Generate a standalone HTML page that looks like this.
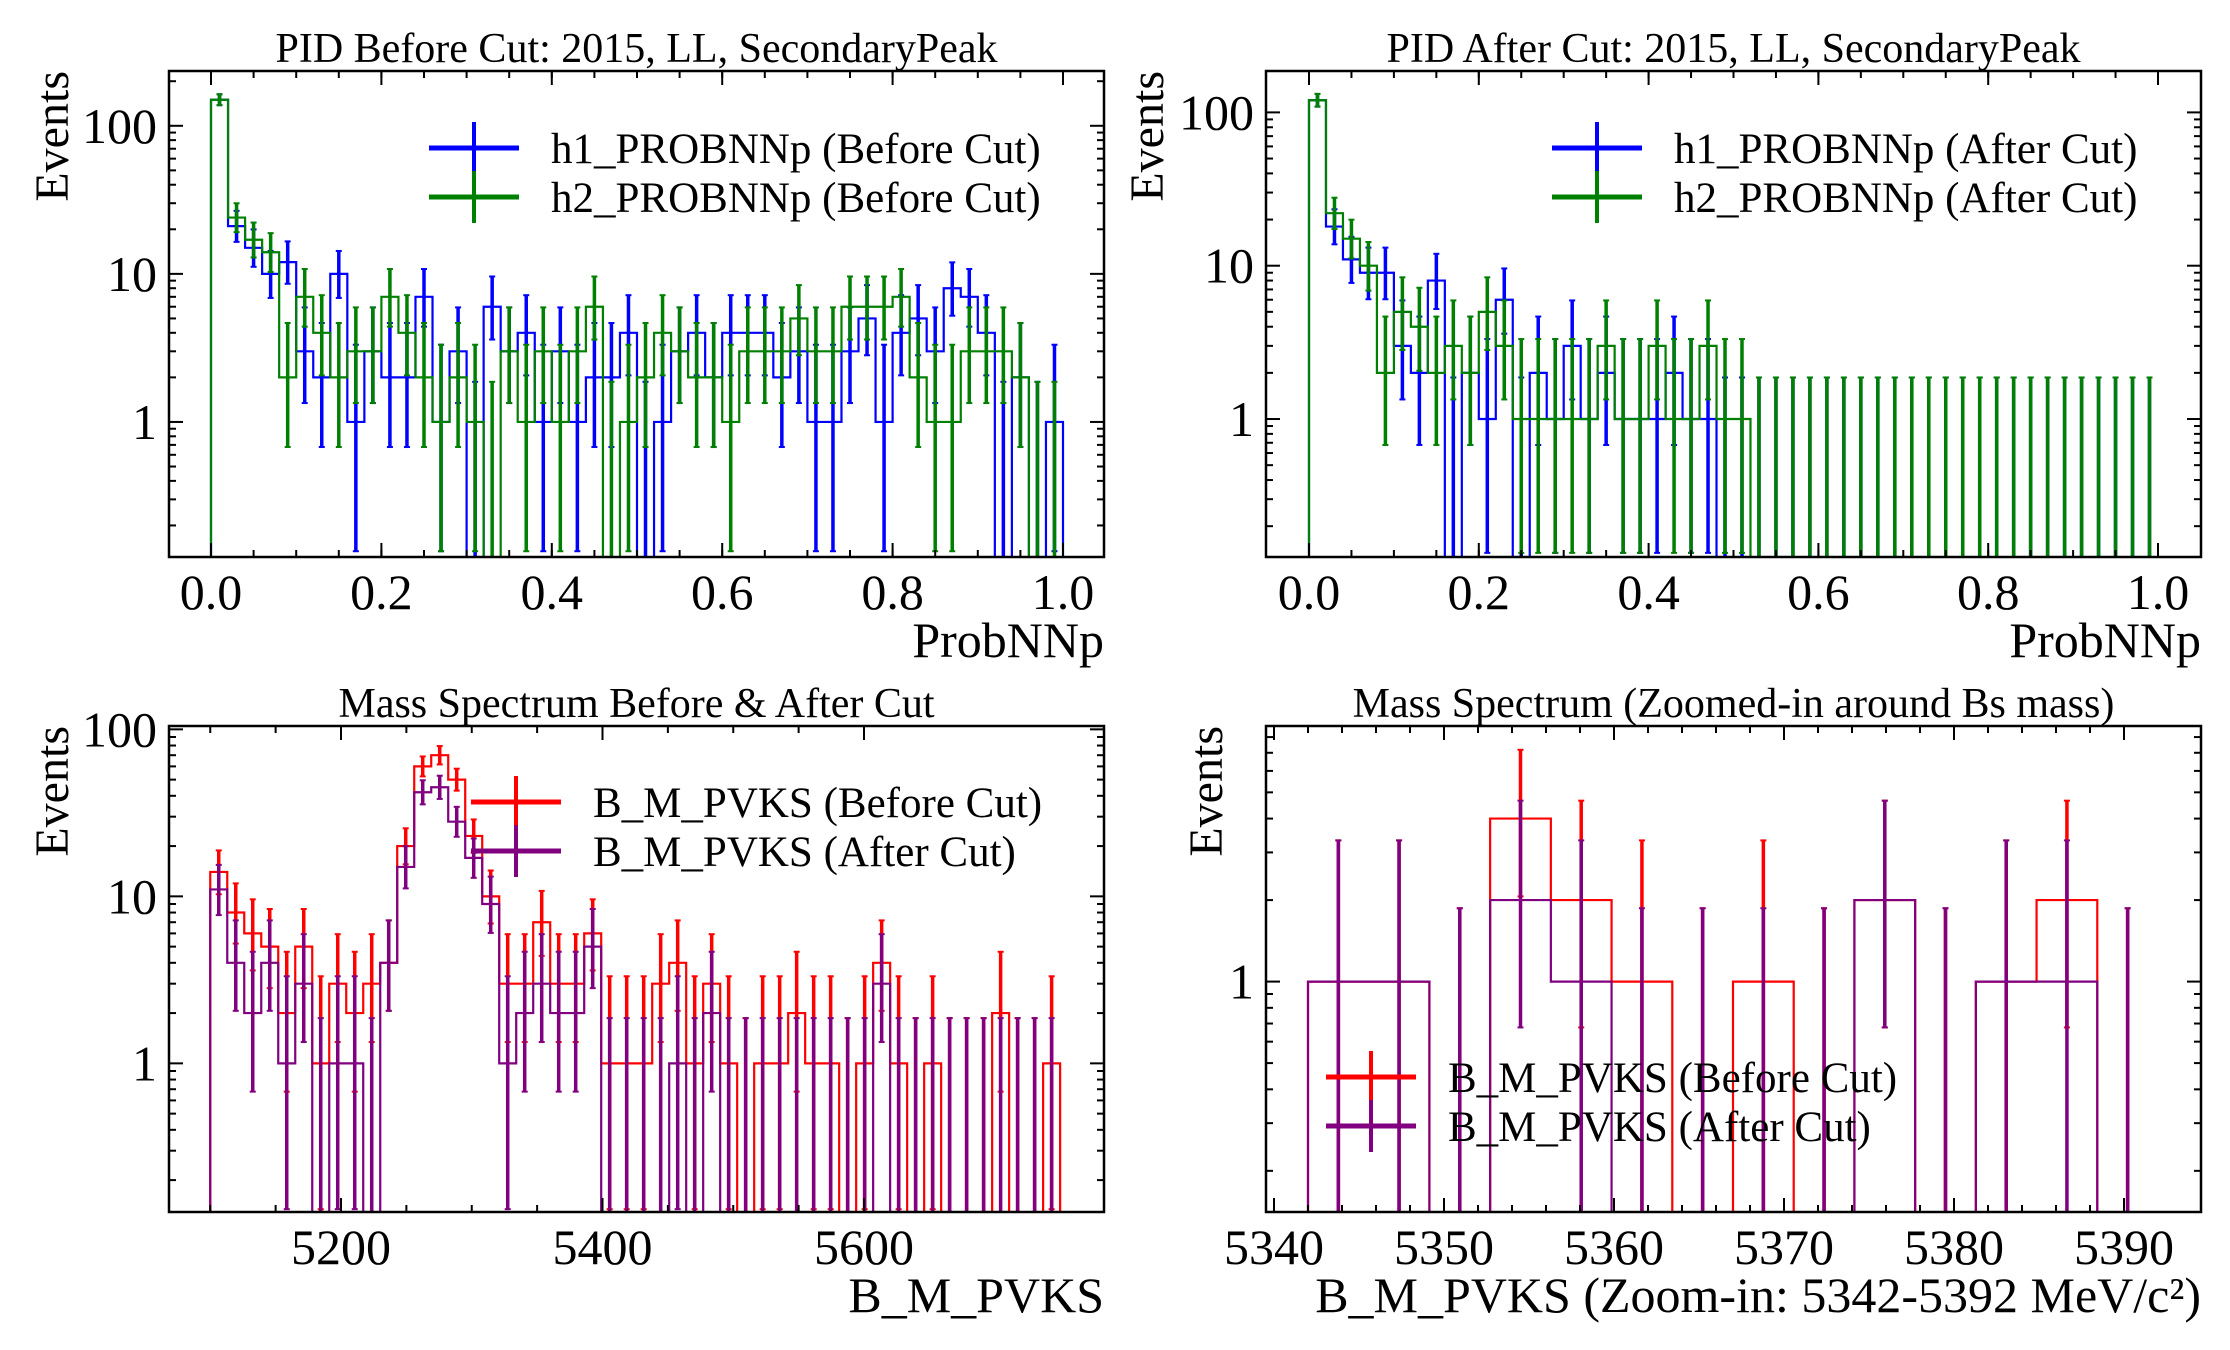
<!DOCTYPE html>
<html><head><meta charset="utf-8"><style>
html,body{margin:0;padding:0;background:#fff}
svg{display:block;font-family:"Liberation Serif","DejaVu Serif",serif}
</style></head><body>
<svg id="fig" width="2230" height="1350" viewBox="0 0 2230 1350" xmlns="http://www.w3.org/2000/svg">
<rect width="2230" height="1350" fill="#fff"/>
</svg>
<script>
// ---- data ----
const pidEdgesStart = 0, pidBinWidth = 0.02, pidBins = 50;
const h1Before = [150,21,15,10,12,3,2,10,1,3, 2,2,7,1,3,0,6,3,4,1, 3,1,2,2,4,0,1,3,4,2, 4,4,4,2,3,1,1,3,5,1, 4,5,3,8,7,4,0,2,0,1];
const h2Before = [150,24,17,14,2,7,4,2,3,3, 7,4,2,1,2,1,0,3,1,3, 1,3,6,0,1,2,4,3,2,2, 1,3,3,3,5,3,3,6,6,6, 7,2,1,1,3,3,3,2,0,0];
const h1After = [120,18,11,9,9,3,2,8,0,2, 1,6,0,2,1,3,1,2,1,1, 1,2,1,1,0,0,0,0,0,0, 0,0,0,0,0,0,0,0,0,0, 0,0,0,0,0,0,0,0,0,0];
const h2After = [120,22,15,10,2,5,4,2,3,2, 5,3,1,1,1,1,1,3,1,1, 3,1,1,3,1,1,0,0,0,0, 0,0,0,0,0,0,0,0,0,0, 0,0,0,0,0,0,0,0,0,0];
const massStart = 5100, massBinWidth = 13;
const massBefore = [14,8,6,5,2,5,1,3,2,3, 4,20,60,70,50,23,10,3,3,7, 3,3,6,1,1,1,3,4,1,3, 1,0,1,1,2,1,1,0,1,4, 1,0,1,0,0,0,2,0,0,1];
const massAfter = [11,4,2,4,1,3,0,1,1,0, 4,15,42,45,28,17,9,1,2,3, 2,2,5,0,0,0,0,1,0,2, 0,0,0,0,0,0,0,0,0,3, 0,0,0,0,0,0,0,0,0,0];
const zoomStart = 5342, zoomBinWidth = 50/14;
const zoomBefore = [1,1,0,4,2,1,0,1,0,2,0,1,2,0];
const zoomAfter = [1,1,0,2,1,0,0,0,0,2,0,1,1,0];
const pidTicks = [0,0.2,0.4,0.6,0.8,1.0];
const pidTickLabels = ["0.0","0.2","0.4","0.6","0.8","1.0"];
const massTicks = [5200,5400,5600];
const zoomTicks = [5340,5350,5360,5370,5380,5390];

const NS="http://www.w3.org/2000/svg";
const fig=document.getElementById('fig');
function mk(tag,attrs,parent){const e=document.createElementNS(NS,tag);for(const k in attrs)e.setAttribute(k,attrs[k]);(parent||fig).appendChild(e);return e;}
function up(n){return n+Math.sqrt(n+0.75)+1;}
function lo(n){return n>0?n-Math.sqrt(n-0.25):1e-6;}

function panel(c){
  const g=mk('g',{});
  
  
  const X=v=>c.px0+(v-c.x0)/(c.x1-c.x0)*(c.px1-c.px0);
  const Y=v=>{const l=Math.log10(Math.max(v,1e-6));return c.B-(l-c.lmin)/(c.lmax-c.lmin)*(c.B-c.T);};
  const cid='clip-'+c.name;
  const cp=mk('clipPath',{id:cid},g);mk('rect',{x:c.L,y:c.T,width:c.R-c.L,height:c.B-c.T},cp);
  const plot=mk('g',{'clip-path':'url(#'+cid+')'},g);
  c.series.forEach(s=>{
    const sg=mk('g',{},plot);
    
    
    let d='';const n=s.vals.length;
    for(let i=0;i<n;i++){
      const xa=X(c.start+i*c.bw),xb=X(c.start+(i+1)*c.bw);
      const yv=s.vals[i]>0?Y(s.vals[i]):c.B+60;
      d+=(i===0?'M'+xa+','+(c.B+60)+' L'+xa+','+yv:' L'+xa+','+yv)+' L'+xb+','+yv;
    }
    d+=' L'+X(c.start+n*c.bw)+','+(c.B+60);
    const p=mk('path',{d:d,fill:'none',stroke:s.color,'stroke-width':2.2},sg);
    
    
    for(let i=0;i<n;i++){
      const v=s.vals[i];const xc=X(c.start+(i+0.5)*c.bw);
      const yt=Y(up(v)),yb=v>0?Y(lo(v)):c.B+60;
      const eb=mk('g',{stroke:s.color},sg);
      
      
      mk('line',{x1:xc,x2:xc,y1:yt,y2:yb,'stroke-width':3.5},eb);
      mk('line',{x1:xc-3,x2:xc+3,y1:yt,y2:yt,'stroke-width':2},eb);
      mk('line',{x1:xc-3,x2:xc+3,y1:yb,y2:yb,'stroke-width':2},eb);
    }
  });
  const fr=mk('rect',{x:c.L,y:c.T,width:c.R-c.L,height:c.B-c.T,fill:'none',stroke:'#000','stroke-width':2.5},g);
  
  
  const tg=mk('g',{stroke:'#000','stroke-width':2},g);
  for(let v=c.xminStart;v<=c.x1+1e-9;v+=c.xminor){const x=X(v);if(x<c.L||x>c.R)continue;
    mk('line',{x1:x,x2:x,y1:c.B,y2:c.B-7},tg);mk('line',{x1:x,x2:x,y1:c.T,y2:c.T+7},tg);}
  c.xt.forEach((v,i)=>{const x=X(v);
    mk('line',{x1:x,x2:x,y1:c.B,y2:c.B-14},tg);mk('line',{x1:x,x2:x,y1:c.T,y2:c.T+14},tg);
    const t=mk('text',{x:x,y:c.B+52,'text-anchor':'middle','font-size':50},g);t.textContent=c.xl[i];
    
    });
  for(let d=-2;d<=3;d++){for(let k=1;k<=9;k++){const v=k*Math.pow(10,d);const y=Y(v);if(y<c.T||y>c.B)continue;
    const len=k===1?14:7;
    mk('line',{x1:c.L,x2:c.L+len,y1:y,y2:y},tg);mk('line',{x1:c.R,x2:c.R-len,y1:y,y2:y},tg);
    if(k===1){const t=mk('text',{x:c.L-12,y:y+17,'text-anchor':'end','font-size':50},g);t.textContent=String(v);
      
      }}}
  const ti=mk('text',{x:(c.L+c.R)/2,y:c.T-9,'text-anchor':'middle','font-size':42},g);ti.textContent=c.title;
  
  
  const xl=mk('text',{x:c.R,y:c.B+100,'text-anchor':'end','font-size':50},g);xl.textContent=c.xlabel;
  
  
  const yl=mk('text',{x:0,y:0,'text-anchor':'end','font-size':48,transform:'translate('+c.ylx+','+c.T+') rotate(-90)'},g);yl.textContent='Events';
  
  
  c.series.forEach((s,i)=>{const y=c.legY+i*49;
    const lg=mk('g',{},g);
    
    
    mk('line',{x1:c.legX,x2:c.legX+90,y1:y,y2:y,stroke:s.color,'stroke-width':5},lg);
    mk('line',{x1:c.legX+45,x2:c.legX+45,y1:y-26,y2:y+26,stroke:s.color,'stroke-width':4},lg);
    const t=mk('text',{x:c.legX+122,y:y+15,'font-size':43},lg);t.textContent=s.label;});
}

panel({name:'pid-before-panel',L:169,R:1104,T:71,B:557,px0:211,px1:1063,x0:0,x1:1,lmin:-0.912,lmax:2.37,
  start:pidEdgesStart,bw:pidBinWidth,xt:pidTicks,xl:pidTickLabels,xminStart:0,xminor:0.05,
  title:'PID Before Cut: 2015, LL, SecondaryPeak',xlabel:'ProbNNp',ylx:68,legX:429,legY:148,
  series:[{id:'h1-before',vals:h1Before,color:'#0000ff',label:'h1_PROBNNp (Before Cut)'},
          {id:'h2-before',vals:h2Before,color:'#008000',label:'h2_PROBNNp (Before Cut)'}]});
panel({name:'pid-after-panel',L:1266,R:2201,T:71,B:557,px0:1309,px1:2158,x0:0,x1:1,lmin:-0.90,lmax:2.27,
  start:pidEdgesStart,bw:pidBinWidth,xt:pidTicks,xl:pidTickLabels,xminStart:0,xminor:0.05,
  title:'PID After Cut: 2015, LL, SecondaryPeak',xlabel:'ProbNNp',ylx:1163,legX:1552,legY:148,
  series:[{id:'h1-after',vals:h1After,color:'#0000ff',label:'h1_PROBNNp (After Cut)'},
          {id:'h2-after',vals:h2After,color:'#008000',label:'h2_PROBNNp (After Cut)'}]});
panel({name:'mass-panel',L:169,R:1104,T:726,B:1212,px0:341,px1:864,x0:5200,x1:5600,lmin:-0.89,lmax:2.02,
  start:massStart,bw:massBinWidth,xt:massTicks,xl:massTicks.map(String),xminStart:5100,xminor:50,
  title:'Mass Spectrum Before & After Cut',xlabel:'B_M_PVKS',ylx:68,legX:471,legY:802,
  series:[{id:'mass-before',vals:massBefore,color:'#ff0000',label:'B_M_PVKS (Before Cut)'},
          {id:'mass-after',vals:massAfter,color:'#800080',label:'B_M_PVKS (After Cut)'}]});
panel({name:'mass-zoom-panel',L:1266,R:2201,T:726,B:1212,px0:1274,px1:2124,x0:5340,x1:5390,lmin:-0.851,lmax:0.944,
  start:zoomStart,bw:zoomBinWidth,xt:zoomTicks,xl:zoomTicks.map(String),xminStart:5340,xminor:2,
  title:'Mass Spectrum (Zoomed-in around Bs mass)',xlabel:'B_M_PVKS (Zoom-in: 5342-5392 MeV/c²)',ylx:1222,legX:1326,legY:1077,
  series:[{id:'zoom-before',vals:zoomBefore,color:'#ff0000',label:'B_M_PVKS (Before Cut)'},
          {id:'zoom-after',vals:zoomAfter,color:'#800080',label:'B_M_PVKS (After Cut)'}]});
</script>
</body></html>
